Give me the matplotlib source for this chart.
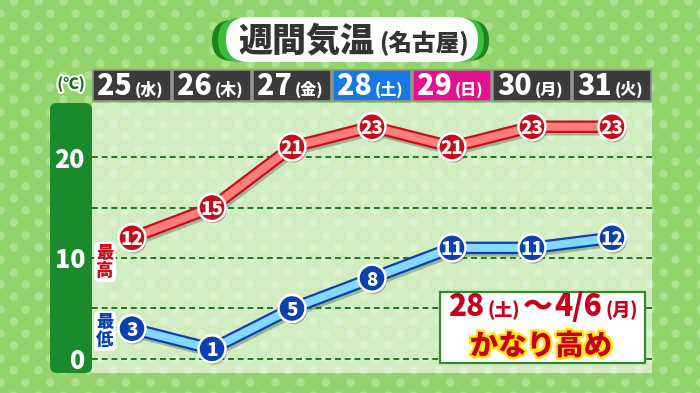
import matplotlib
matplotlib.use('Agg')
import matplotlib.pyplot as plt
from matplotlib.patches import FancyBboxPatch, Rectangle
import matplotlib.patheffects as pe
import matplotlib.transforms as mtransforms

plt.rcParams['font.family'] = ['Noto Sans CJK JP', 'DejaVu Sans']

# ---------------- data ----------------
days = ['25', '26', '27', '28', '29', '30', '31']
weekdays = ['水', '木', '金', '土', '日', '月', '火']
high = [12, 15, 21, 23, 21, 23, 23]
low = [3, 1, 5, 8, 11, 11, 12]
yticks = [0, 5, 10, 15, 20]
ylabels = ['0', '', '10', '', '20']
title_main = '週間気温'
title_sub = '(名古屋)'
unit_label = '(℃)'
high_label = '最\n高'
low_label = '最\n低'
note_parts = ['28', '(土)', '〜', '4/6', '(月)']
note_line2 = 'かなり高め'

# ---------------- style ----------------
W, H = 700, 393
BG = '#92d36c'
DOT = '#aee090'
RED_DARK = '#c4101c'
RED_LIGHT = '#ff7c7c'
BLUE_DARK = '#0c40ae'
BLUE_LIGHT = '#84d8ff'
AXIS_GREEN = '#1a8a2c'
day_colors = {'土': '#1778e6', '日': '#e5108c'}
default_day_color = '#3b3b3b'

fig = plt.figure(figsize=(W / 100, H / 100), dpi=100)
fig.patch.set_facecolor(BG)

# background layer (pixel coordinates)
bg = fig.add_axes([0, 0, 1, 1], zorder=-1)
bg.set_xlim(0, W)
bg.set_ylim(H, 0)
bg.axis('off')
dx, dy = [], []
r = 0
yy = 1.0
while yy < H + 12:
    xx = 12.5 if r % 2 == 0 else 0.0
    while xx < W + 12:
        dx.append(xx)
        dy.append(yy)
        xx += 25
    yy += 12.3
    r += 1
bg.scatter(dx, dy, s=38, color=DOT, linewidths=0, zorder=1)

# y-axis green bar
bg.add_patch(FancyBboxPatch((50, 103), 42, 270, boxstyle='round,pad=0,rounding_size=7',
                            fc=AXIS_GREEN, ec='none', zorder=2))

# title pill
bg.add_patch(FancyBboxPatch((212, 20), 277, 41, boxstyle='round,pad=0,rounding_size=20.5',
                            fc='#1c861c', ec='none', zorder=3))
bg.add_patch(FancyBboxPatch((218, 18), 266, 44, boxstyle='round,pad=0,rounding_size=22',
                            fc='#3cc03c', ec='none', zorder=4))
bg.add_patch(FancyBboxPatch((226, 17), 252, 45, boxstyle='round,pad=0,rounding_size=22.5',
                            fc='white', ec='none', zorder=5))
bg.text(306, 41, title_main, ha='center', va='center', fontsize=24.5, fontweight='heavy',
        color='#333333', zorder=6)
bg.text(379, 43, title_sub, ha='left', va='center', fontsize=17, fontweight='heavy',
        color='#333333', zorder=6)

# ---------------- main plot ----------------
ax = fig.add_axes([92 / W, (H - 373) / H, 560 / W, 270 / H], zorder=1)
ax.patch.set_facecolor('white')
ax.patch.set_alpha(0.58)
for s in ax.spines.values():
    s.set_visible(False)
ax.set_xticks([])
ax.set_yticks(yticks, ylabels)
ax.tick_params(axis='y', length=0, pad=5, labelcolor='white', labelsize=18)
for lbl in ax.get_yticklabels():
    lbl.set_fontweight('heavy')
ax.yaxis.grid(True, color='#1c7a1c', linestyle=(0, (3.0, 2.0)), linewidth=1.4)
ax.set_axisbelow(True)

x = list(range(len(days)))
for vals, dark, light in [(high, RED_DARK, RED_LIGHT), (low, BLUE_DARK, BLUE_LIGHT)]:
    ax.plot(x, vals, color=dark, lw=9.0, solid_joinstyle='round', solid_capstyle='butt', zorder=3,
            path_effects=[pe.SimpleLineShadow(offset=(1.2, -1.8), shadow_color='#335533', alpha=0.35),
                          pe.Normal()])
    ax.plot(x, vals, color=light, lw=5.8, solid_joinstyle='round', zorder=4)
    ax.plot(x, vals, 'o', ms=19.5, mfc=dark, mec='white', mew=1.8, zorder=5,
            path_effects=[pe.SimplePatchShadow(offset=(1, -1.5), alpha=0.35), pe.Normal()])
    for xi, v in zip(x, vals):
        ax.text(xi, v, str(v), ha='center', va='center_baseline', color='white', fontsize=13.5,
                fontweight='heavy', zorder=6)

ax.set_xlim(-0.5, 6.5)
ax.set_ylim(-1.39, 25.35)

# day headers
trans = mtransforms.blended_transform_factory(ax.transData, fig.transFigure)
for i, (d, wd) in enumerate(zip(days, weekdays)):
    c = day_colors.get(wd, default_day_color)
    fig.add_artist(Rectangle((i - 0.488, (H - 101) / H), 0.976, 31 / H, transform=trans,
                             fc=c, ec='#8f8f8f', lw=1.2, zorder=2))
    fig.text(i + 0.0, (H - 95) / H, d, transform=trans, ha='right', va='baseline',
             color='white', fontsize=20.5, fontweight='heavy', zorder=3)
    fig.text(i + 0.03, (H - 95) / H, '(' + wd + ')', transform=trans, ha='left', va='baseline',
             color='white', fontsize=11.5, fontweight='heavy', zorder=3)

# ---------------- overlay (pixel coordinates) ----------------
ov = fig.add_axes([0, 0, 1, 1], zorder=10)
ov.set_xlim(0, W)
ov.set_ylim(H, 0)
ov.axis('off')
ov.patch.set_alpha(0)

ov.text(71, 84, unit_label, ha='center', va='center', fontsize=11, fontweight='heavy',
        color='#1d6b1d', path_effects=[pe.withStroke(linewidth=3, foreground='white')])

ov.text(105, 262, high_label, ha='center', va='center', fontsize=12.5, fontweight='heavy',
        color=RED_DARK, linespacing=1.0,
        bbox=dict(boxstyle='round,pad=0.12,rounding_size=0.3', fc='white', ec='none'))
ov.text(105, 331, low_label, ha='center', va='center', fontsize=12.5, fontweight='heavy',
        color=BLUE_DARK, linespacing=1.0,
        bbox=dict(boxstyle='round,pad=0.12,rounding_size=0.3', fc='white', ec='none'))

ov.add_patch(Rectangle((440, 292), 205, 71, fc='white', ec='#2e8b2e', lw=1.6))

# first note line: pieces laid out one after another
renderer = fig.canvas.get_renderer()
part_size = [21.5, 13, 21.5, 21.5, 13]
part_gap = [3, 3, 2, 3, 0]
cur = 448.0
inv = ov.transData.inverted()
for t, fs, g in zip(note_parts, part_size, part_gap):
    txt = ov.text(cur, 316, t, ha='left', va='baseline', fontsize=fs, fontweight='heavy',
                  color='#c8001e')
    bb = txt.get_window_extent(renderer)
    right = inv.transform((bb.x1, bb.y0))[0]
    cur = right + g
ov.text(541, 346, note_line2, ha='center', va='center', fontsize=20.5, fontweight='heavy',
        color='#c8001e', path_effects=[pe.withStroke(linewidth=3.5, foreground='#ffe600')])

fig.savefig('out.png', dpi=100, facecolor=fig.get_facecolor())
